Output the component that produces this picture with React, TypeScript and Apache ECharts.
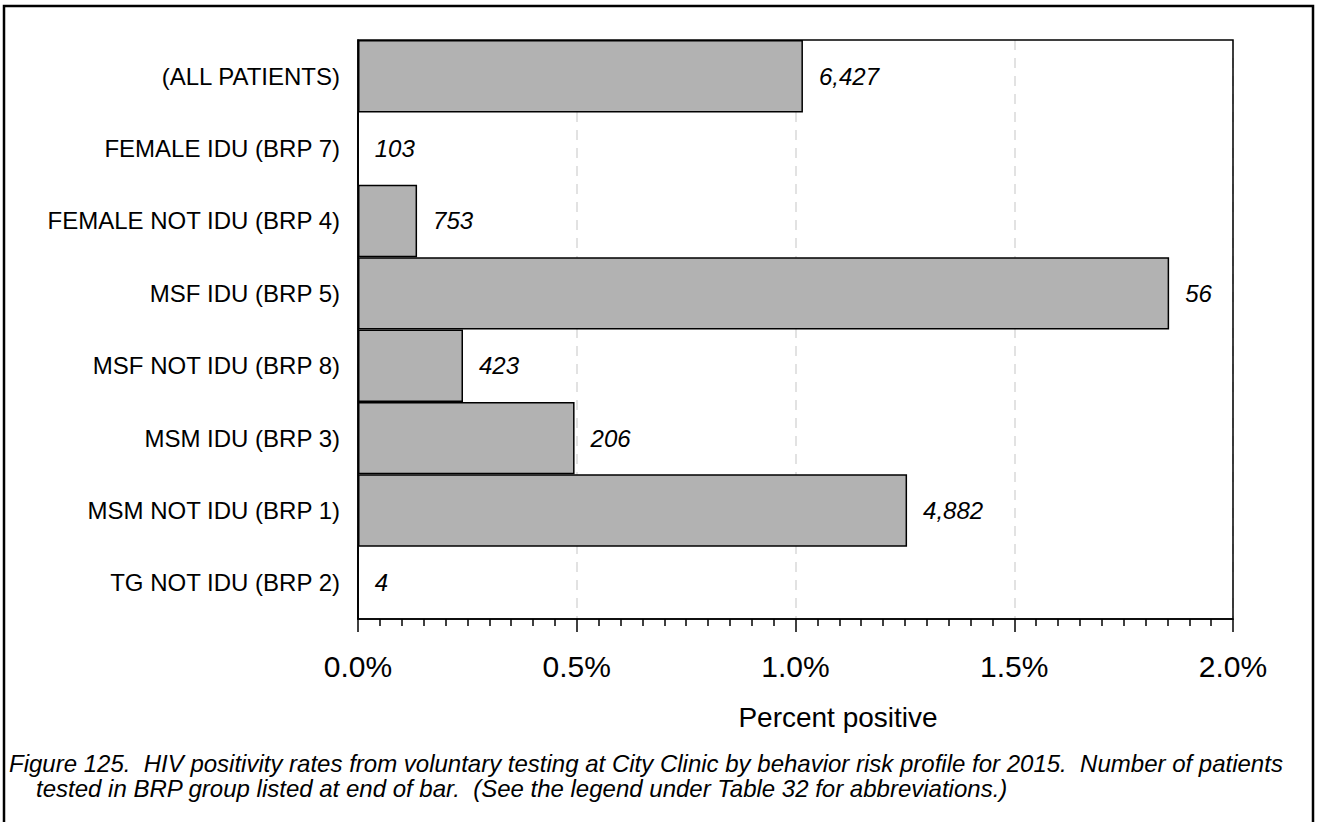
import React, { useEffect, useRef } from "react";
import * as echarts from "echarts";

const categories = [
  "(ALL PATIENTS)",
  "FEMALE IDU (BRP 7)",
  "FEMALE NOT IDU (BRP 4)",
  "MSF IDU (BRP 5)",
  "MSF NOT IDU (BRP 8)",
  "MSM IDU (BRP 3)",
  "MSM NOT IDU (BRP 1)",
  "TG NOT IDU (BRP 2)",
];
const percentPositive = [1.017, 0, 0.135, 1.854, 0.24, 0.495, 1.255, 0];
const patientsTested = ["6,427", "103", "753", "56", "423", "206", "4,882", "4"];
const xTickValues = [0, 0.5, 1.0, 1.5, 2.0];
const axisTitle = "Percent positive";
const captionLine1 =
  "Figure 125.  HIV positivity rates from voluntary testing at City Clinic by behavior risk profile for 2015.  Number of patients";
const captionLine2 =
  "tested in BRP group listed at end of bar.  (See the legend under Table 32 for abbreviations.)";

const FONT = "'Liberation Sans', Arial, sans-serif";

export default function App() {
  const ref = useRef<HTMLDivElement>(null);
  useEffect(() => {
    document.body.style.margin = "0";
    const chart = echarts.init(ref.current!, null, { renderer: "svg" });
    chart.setOption({
      animation: false,
      backgroundColor: "#fff",
      textStyle: { fontFamily: FONT },
      grid: {
        left: 358,
        top: 40,
        right: 85,
        bottom: 203,
        show: false,
      },
      xAxis: {
        type: "value",
        min: xTickValues[0],
        max: xTickValues[xTickValues.length - 1],
        interval: 0.5,
        axisLine: { show: true, lineStyle: { color: "#000", width: 1.5 } },
        axisTick: { show: true, length: 13, lineStyle: { color: "#000", width: 1.5 } },
        minorTick: { show: true, splitNumber: 10, length: 7, lineStyle: { color: "#000", width: 1.5 } },
        splitLine: { show: true, lineStyle: { color: "#d9d9d9", type: [10, 8], width: 1.5 } },
        axisLabel: {
          formatter: (v: number) => v.toFixed(1) + "%",
          fontSize: 30,
          color: "#000",
          margin: 32,
          fontFamily: FONT,
        },
      },
      yAxis: {
        type: "category",
        data: categories,
        inverse: true,
        axisLine: { show: true, lineStyle: { color: "#000", width: 1.5 } },
        axisTick: { show: false },
        axisLabel: { fontSize: 24, color: "#000", margin: 18, fontFamily: FONT },
        splitLine: { show: false },
      },
      series: [
        {
          type: "bar",
          data: percentPositive,
          barCategoryGap: 0,
          itemStyle: { color: "#b2b2b2", borderColor: "#000", borderWidth: 1.5 },
          label: {
            show: true,
            position: "right",
            distance: 16,
            fontSize: 24,
            fontStyle: "italic",
            color: "#000",
            fontFamily: FONT,
            formatter: (p: any) => patientsTested[p.dataIndex],
          },
        },
      ],
      graphic: [
        {
          type: "rect",
          shape: { x: 358, y: 40, width: 875, height: 579 },
          style: { fill: "none", stroke: "#000", lineWidth: 1.5 },
          z: 50,
        },
        {
          type: "rect",
          shape: { x: 4, y: 6, width: 1309, height: 830 },
          style: { fill: "none", stroke: "#000", lineWidth: 2.5 },
          z: 100,
        },
        {
          type: "text",
          x: 838,
          y: 717,
          style: {
            text: axisTitle,
            fontSize: 28,
            fill: "#000",
            fontFamily: FONT,
            align: "center",
            verticalAlign: "middle",
          },
        },
        {
          type: "text",
          x: 9,
          y: 763,
          style: {
            text: captionLine1,
            fontSize: 24,
            fontStyle: "italic",
            fill: "#000",
            fontFamily: FONT,
            verticalAlign: "middle",
          },
        },
        {
          type: "text",
          x: 36,
          y: 788,
          style: {
            text: captionLine2,
            fontSize: 24,
            fontStyle: "italic",
            fill: "#000",
            fontFamily: FONT,
            verticalAlign: "middle",
          },
        },
      ],
    });
    return () => chart.dispose();
  }, []);
  return (
    <div
      ref={ref}
      style={{ position: "absolute", left: 0, top: 0, width: 1318, height: 822 }}
    />
  );
}
